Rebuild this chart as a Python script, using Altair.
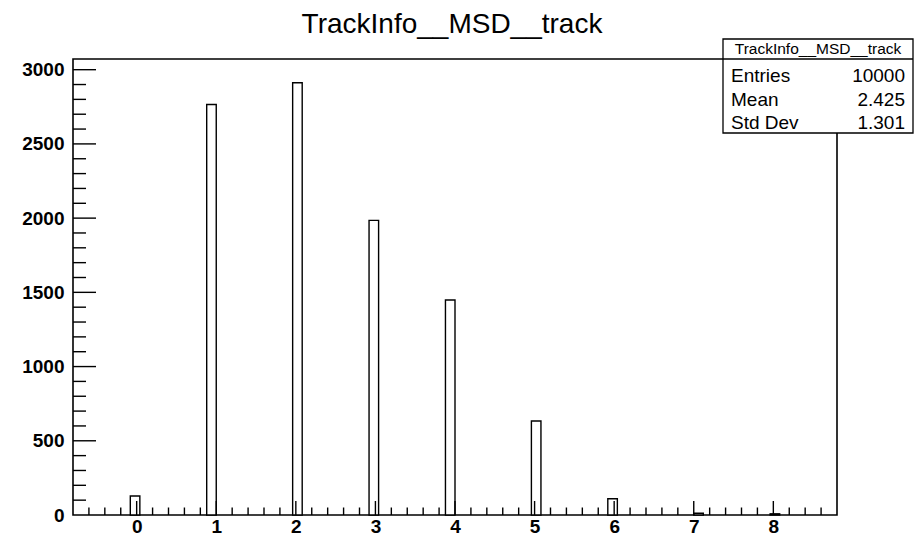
import altair as alt
import numpy as np
import pandas as pd

# Histogram: 80 bins of width 0.12 spanning [-0.8, 8.8]
x_min, x_max, n_bins = -0.8, 8.8, 80
bin_width = (x_max - x_min) / n_bins

track_values = [0, 1, 2, 3, 4, 5, 6, 7, 8]
bin_index = [6, 14, 23, 31, 39, 48, 56, 65, 73]
counts = [128, 2765, 2912, 1985, 1448, 633, 109, 12, 8]
y_max = 3072

# Stats box contents
stats_title = "TrackInfo__MSD__track"
stats_names = ["Entries", "Mean", "Std Dev"]
stats_values = ["10000", "2.425", "1.301"]

x_labels = list(range(0, 9))
y_labels = list(range(0, 3001, 500))

W, H = 764, 456
FONT = "Liberation Sans"

hist = pd.DataFrame({
    "track": track_values,
    "lo": [x_min + i * bin_width for i in bin_index],
    "hi": [x_min + (i + 1) * bin_width for i in bin_index],
    "count": counts,
    "base": [0] * len(counts),
})

xs = alt.Scale(domain=[x_min, x_max], nice=False, zero=False)
ys = alt.Scale(domain=[0, y_max], nice=False, zero=True)

x_axis = alt.Axis(
    values=x_labels, format="d", title=None, grid=False, domain=False,
    ticks=False, tickSize=0, labelPadding=2, labelFont=FONT,
    labelFontWeight="bold", labelFontSize=19, labelColor="black")
y_axis = alt.Axis(
    values=y_labels, format="d", title=None, grid=False, domain=False,
    ticks=False, tickSize=0, labelPadding=9, labelFont=FONT,
    labelFontWeight="bold", labelFontSize=19, labelColor="black")

bars = alt.Chart(hist).mark_rect(fill="white", stroke="black", strokeWidth=1.4).encode(
    x=alt.X("lo:Q", scale=xs, axis=x_axis),
    x2="hi:Q",
    y=alt.Y("count:Q", scale=ys, axis=y_axis),
    y2="base:Q",
)

# Inward tick marks (ROOT style): x minor every 0.2, major at integers
xt = np.round(np.arange(-0.6, 8.61, 0.2), 2)
x_major = pd.DataFrame({"v": [v for v in xt if abs(v - round(v)) < 1e-9]})
x_minor = pd.DataFrame({"v": [v for v in xt if abs(v - round(v)) >= 1e-9]})
yt = np.arange(100, 3001, 100)
y_major = pd.DataFrame({"v": [v for v in yt if v % 500 == 0]})
y_minor = pd.DataFrame({"v": [v for v in yt if v % 500 != 0]})

tick_style = dict(color="black", strokeWidth=1.4)
xmaj = alt.Chart(x_major).mark_rule(**tick_style).encode(
    x=alt.X("v:Q", scale=xs, axis=x_axis), y=alt.value(H), y2=alt.value(H - 14))
xmin_t = alt.Chart(x_minor).mark_rule(**tick_style).encode(
    x=alt.X("v:Q", scale=xs, axis=x_axis), y=alt.value(H), y2=alt.value(H - 7.5))
ymaj = alt.Chart(y_major).mark_rule(**tick_style).encode(
    y=alt.Y("v:Q", scale=ys, axis=y_axis), x=alt.value(0), x2=alt.value(23))
ymin_t = alt.Chart(y_minor).mark_rule(**tick_style).encode(
    y=alt.Y("v:Q", scale=ys, axis=y_axis), x=alt.value(0), x2=alt.value(13))

# Title
title = alt.Chart(pd.DataFrame({"t": ["TrackInfo__MSD__track"]})).mark_text(
    font=FONT, fontSize=28, color="black", align="center", baseline="alphabetic"
).encode(text="t:N", x=alt.value(379), y=alt.value(-26))

# Stats box
box_left, box_right, box_top, box_bottom = 650, 840, -20, 74
one = pd.DataFrame({"a": [0]})
box = alt.Chart(one).mark_rect(
    fill="white", stroke="black", strokeWidth=1.3
).encode(x=alt.value(box_left), x2=alt.value(box_right),
         y=alt.value(box_top), y2=alt.value(box_bottom))
sep = alt.Chart(one).mark_rule(color="black", strokeWidth=1.3).encode(
    x=alt.value(box_left), x2=alt.value(box_right), y=alt.value(0))
box_title = alt.Chart(pd.DataFrame({"t": [stats_title]})).mark_text(
    font=FONT, fontSize=15.5, color="black", align="center", baseline="alphabetic"
).encode(text="t:N", x=alt.value((box_left + box_right) / 2), y=alt.value(-5))

stat_layers = []
for k, (name, val) in enumerate(zip(stats_names, stats_values)):
    row = pd.DataFrame({"name": [name], "val": [val]})
    base_y = 22.7 + 23.8 * k
    stat_layers.append(alt.Chart(row).mark_text(
        font=FONT, fontSize=19, color="black", align="left", baseline="alphabetic"
    ).encode(text="name:N", x=alt.value(658), y=alt.value(base_y)))
    stat_layers.append(alt.Chart(row).mark_text(
        font=FONT, fontSize=19, color="black", align="right", baseline="alphabetic"
    ).encode(text="val:N", x=alt.value(832), y=alt.value(base_y)))

chart = alt.layer(
    bars, xmin_t, xmaj, ymin_t, ymaj, title, box, sep, box_title, *stat_layers
).properties(
    width=W, height=H,
    background="white",
    autosize=alt.AutoSizeParams(type="none"),
    padding={"left": 73, "top": 59, "right": 923 - 73 - W, "bottom": 536 - 59 - H},
).configure_view(stroke="black", strokeWidth=1.6)

chart.save("out.html", embed_options={"renderer": "svg", "actions": False})
